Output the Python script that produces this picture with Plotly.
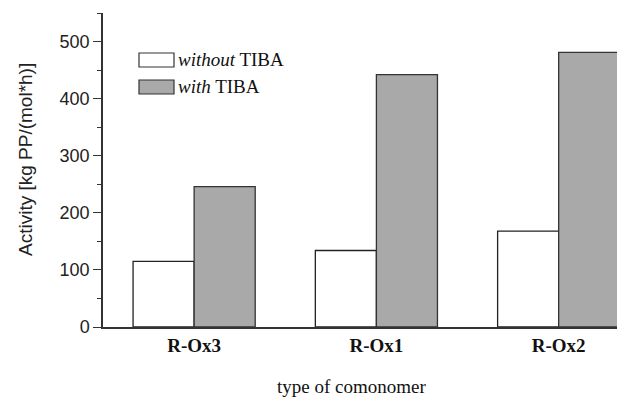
import plotly.graph_objects as go

categories = ["R-Ox3", "R-Ox1", "R-Ox2"]
without_tiba = [115, 134, 168]
with_tiba = [246, 442, 481]
series_names = ["<i>without</i> TIBA", "<i>with</i> TIBA"]

fig = go.Figure()
fig.add_trace(go.Bar(x=categories, y=without_tiba, name=series_names[0],
                     marker=dict(color="white", line=dict(color="#222", width=1.3)),
                     showlegend=False))
fig.add_trace(go.Bar(x=categories, y=with_tiba, name=series_names[1],
                     marker=dict(color="#a9a9a9", line=dict(color="#333", width=1.3)),
                     showlegend=False))

serif = "Liberation Serif, Times New Roman, serif"
sans = "Liberation Sans, Arial, sans-serif"

L, T, B, R = 103, 13, 327, 617
PW, PH = R - L, B - T

fig.update_layout(
    width=618, height=397,
    margin=dict(l=L, r=618 - R, t=T, b=397 - B, autoexpand=False),
    paper_bgcolor="white", plot_bgcolor="white",
    barmode="group", bargap=0.33, bargroupgap=0,
    xaxis=dict(range=[-0.5, 2.32], showline=True, linecolor="#333", linewidth=1.5,
               ticks="", tickfont=dict(family=serif, size=19, color="#111"),
               tickprefix="<b>", ticksuffix="</b>", automargin=False,
               showgrid=False, zeroline=False),
    yaxis=dict(range=[0, 550], showline=True, linecolor="#333", linewidth=1.5,
               ticks="outside", ticklen=8, tickwidth=1.2, tickcolor="#333",
               tickvals=[0, 100, 200, 300, 400, 500], automargin=False,
               minor=dict(tickvals=[50, 150, 250, 350, 450, 550], ticks="outside", ticklen=4,
                          tickcolor="#333", tickwidth=1.2),
               tickfont=dict(family=sans, size=18, color="#222"),
               showgrid=False, zeroline=False),
)

# axis titles
fig.add_annotation(xref="paper", yref="paper", x=(351 - L) / PW, y=(B - 386) / PH,
                   text="type of comonomer", showarrow=False, xanchor="center", yanchor="middle",
                   font=dict(family=serif, size=19, color="#111"))
fig.add_annotation(xref="paper", yref="paper", x=(25 - L) / PW, y=(B - 160) / PH,
                   text="Activity [kg PP/(mol*h)]", showarrow=False, textangle=-90,
                   xanchor="center", yanchor="middle",
                   font=dict(family=sans, size=19, color="#222"))

# custom legend
legend_items = [(series_names[0], "white", 60), (series_names[1], "#a9a9a9", 87)]
for text, color, ypix in legend_items:
    fig.add_shape(type="rect", xref="paper", yref="paper",
                  x0=(139 - L) / PW, x1=(174 - L) / PW,
                  y0=(B - (ypix + 7)) / PH, y1=(B - (ypix - 7)) / PH,
                  fillcolor=color, line=dict(color="#333", width=1.2))
    fig.add_annotation(xref="paper", yref="paper", x=(176 - L) / PW, y=(B - ypix) / PH,
                       text=text, showarrow=False, xanchor="left", yanchor="middle",
                       font=dict(family=serif, size=19, color="#111"))

fig.write_html("out.html", config={"displayModeBar": False},
               post_script="document.body.style.margin='0';")
